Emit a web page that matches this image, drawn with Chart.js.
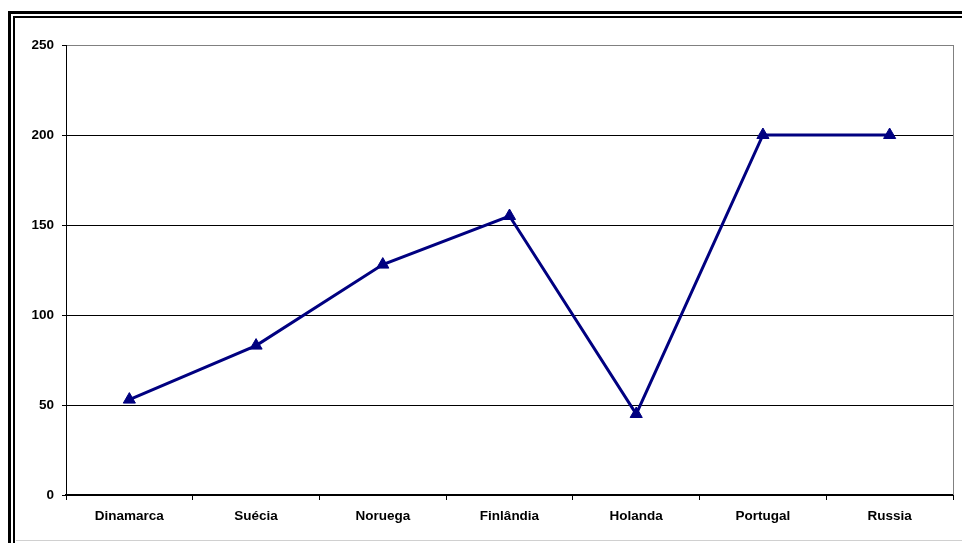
<!DOCTYPE html>
<html>
<head>
<meta charset="utf-8">
<script src="https://cdn.jsdelivr.net/npm/chart.js@4/dist/chart.umd.min.js"></script>
<style>
  html, body { margin: 0; padding: 0; background: #fff; }
  #wrap { width: 962px; height: 543px; position: relative; }
</style>
</head>
<body>
<div id="wrap"><canvas id="c" width="962" height="543"></canvas></div>
<script>
// Countries along the category axis
const categories = ['Dinamarca', 'Suécia', 'Noruega', 'Finlândia', 'Holanda', 'Portugal', 'Russia'];
// Values per country
const values = [53, 83, 128, 155, 45, 200, 200];
// Value axis range and step
const yTicks = { min: 0, max: 250, step: 50 };

const NAVY = '#000080';
const FONT = { family: '"Liberation Sans", Arial, sans-serif', size: 13.5, weight: 'bold' };

// Background, double frame and the plot-area border on the right
const framePlugin = {
  id: 'frame',
  beforeDraw(chart) {
    const ctx = chart.ctx;
    ctx.save();
    ctx.fillStyle = '#fff';
    ctx.fillRect(0, 0, chart.width, chart.height);
    ctx.fillStyle = '#000';
    // outer frame line
    ctx.fillRect(8, 11, 3, chart.height - 11);
    ctx.fillRect(8, 11, chart.width - 8, 3);
    // inner frame line
    ctx.fillRect(13, 16, 2, chart.height - 16);
    ctx.fillRect(13, 16, chart.width - 13, 2);
    // light bottom edge
    ctx.fillStyle = '#d0d0d0';
    ctx.fillRect(16, 540, chart.width - 16, 1);
    ctx.restore();
  },
  beforeDatasetsDraw(chart) {
    const { ctx, chartArea } = chart;
    ctx.save();
    ctx.strokeStyle = '#808080';
    ctx.lineWidth = 1;
    ctx.beginPath();
    ctx.moveTo(Math.round(chartArea.right) + 0.5, chartArea.top);
    ctx.lineTo(Math.round(chartArea.right) + 0.5, chartArea.bottom);
    ctx.stroke();
    ctx.restore();
  }
};

new Chart(document.getElementById('c'), {
  type: 'line',
  data: {
    labels: categories,
    datasets: [{
      data: values,
      borderColor: NAVY,
      backgroundColor: NAVY,
      borderWidth: 3,
      pointStyle: 'triangle',
      pointRadius: 7,
      pointHoverRadius: 7,
      pointBorderWidth: 1,
      pointBorderColor: NAVY,
      pointBackgroundColor: NAVY,
      tension: 0,
      fill: false
    }]
  },
  options: {
    responsive: false,
    animation: false,
    devicePixelRatio: 1,
    layout: { padding: { left: 0, right: 9, top: 45, bottom: 0 } },
    plugins: { legend: { display: false }, tooltip: { enabled: false } },
    scales: {
      x: {
        offset: true,
        grid: {
          offset: true,
          drawOnChartArea: false,
          drawTicks: true,
          tickLength: 5,
          tickColor: '#000'
        },
        border: { color: '#000', width: 2 },
        ticks: { color: '#000', font: FONT, padding: 8, maxRotation: 0, autoSkip: false },
        afterFit(scale) { scale.height = 48; }
      },
      y: {
        min: yTicks.min,
        max: yTicks.max,
        ticks: { stepSize: yTicks.step, color: '#000', font: FONT, padding: 8 },
        grid: {
          color: (c) => (c.tick && c.tick.value === yTicks.max) ? '#808080' : '#000',
          lineWidth: 1,
          drawTicks: true,
          tickLength: 4,
          tickColor: '#000'
        },
        border: { color: '#000', width: 1 },
        afterFit(scale) { scale.width = 66; }
      }
    }
  },
  plugins: [framePlugin]
});
</script>
</body>
</html>
